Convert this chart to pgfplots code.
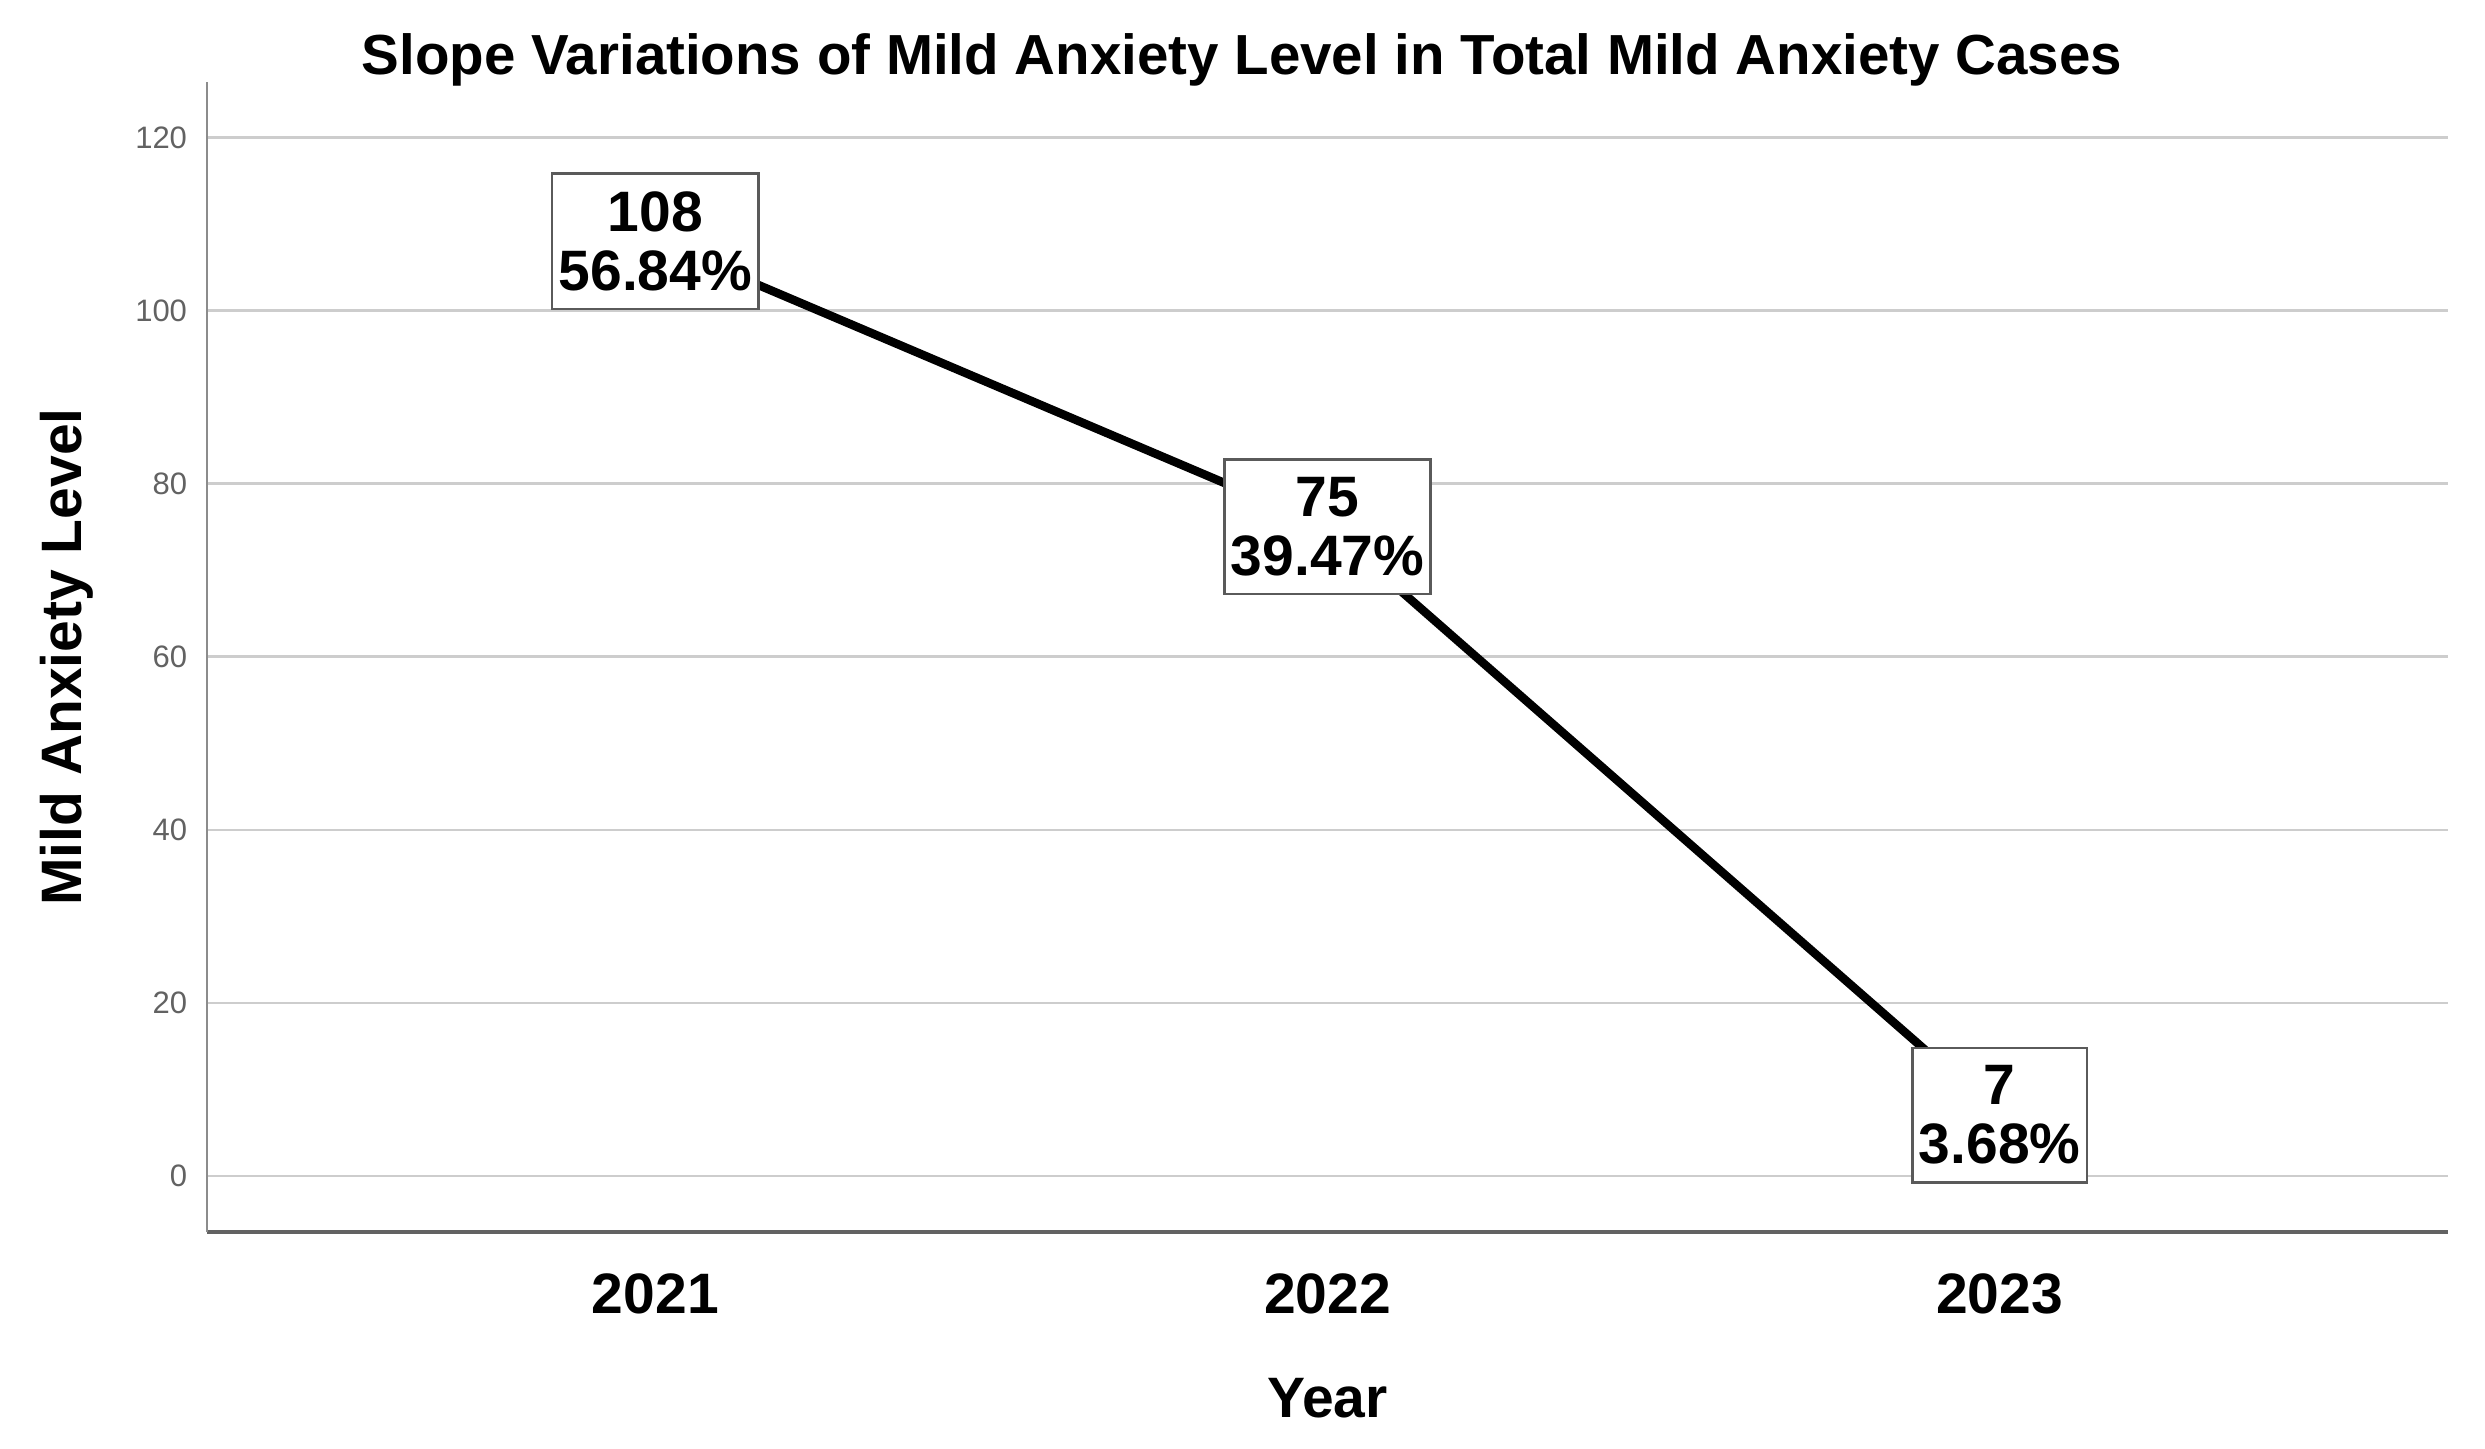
\documentclass[border=0pt]{standalone}
\usepackage{fontspec}
\setmainfont{Liberation Sans}
\usepackage{pgfplots}
\pgfplotsset{compat=1.18}
\usetikzlibrary{calc}
\definecolor{gridgray}{RGB}{205,205,205}
\definecolor{axgray}{RGB}{140,140,140}
\definecolor{boxgray}{RGB}{90,90,90}
\newcommand{\bigbf}{\fontsize{11.4}{11.8}\selectfont\bfseries}
\begin{document}
\begin{tikzpicture}
\begin{axis}[
  scale only axis, width=448.2pt, height=230pt,
  xmin=-0.667, xmax=2.667, ymin=-6.5, ymax=126.4,
  axis x line*=bottom, axis y line*=left,
  x axis line style={draw=axgray!70!black, line width=0.8pt},
  y axis line style={draw=axgray, line width=0.5pt},
  xtick={0,1,2}, xticklabels={2021,2022,2023},
  ytick={0,20,...,120},
  major tick length=0pt,
  ymajorgrids, grid style={gridgray, line width=0.45pt},
  /pgf/number format/assume math mode=true,
  xticklabel style={font=\bigbf, anchor=base, yshift=-16.2pt},
  yticklabel style={font=\fontsize{6.2}{7}\selectfont, text=axgray!70!black, anchor=east, inner sep=0pt, xshift=-3.8pt},
  clip=false,
]
\addplot[black, line width=1.7pt,
  nodes near coords, point meta=explicit symbolic,
  every node near coord/.append style={anchor=center, draw=boxgray, fill=white,
    line width=0.5pt, align=center, inner xsep=1.3pt, inner ysep=3.6pt,
    font=\bigbf, text=black}]
  coordinates {(0,108) [108\\56.84\%] (1,75) [75\\39.47\%] (2,7) [7\\3.68\%]};

\node[font=\fontsize{11.3}{12}\selectfont\bfseries, anchor=base] at (rel axis cs:0.4618,1.0061)
  {Slope Variations of Mild Anxiety Level in Total Mild Anxiety Cases};
\node[font=\bigbf, rotate=90, anchor=center] at (rel axis cs:-0.0625,0.5) {Mild Anxiety Level};
\node[font=\bigbf, anchor=base] at (rel axis cs:0.5,-0.1617) {Year};
\coordinate (bl) at (rel axis cs:0,0);
\coordinate (tr) at (rel axis cs:1,1);
\end{axis}
\pgfresetboundingbox
\path ($(bl)+(-41.4pt,-43.2pt)$) rectangle ($(tr)+(7.4pt,16.4pt)$);
\end{tikzpicture}
\end{document}
